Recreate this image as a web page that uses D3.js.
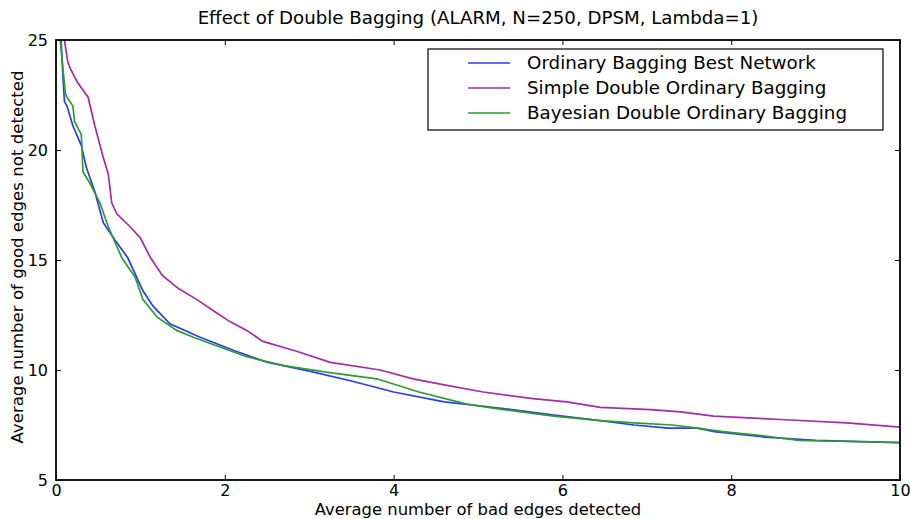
<!DOCTYPE html>
<html>
<head>
<meta charset="utf-8">
<script src="https://cdn.jsdelivr.net/npm/d3@7"></script>
<style>
  body { margin: 0; background: #fff; }
  text { font-family: "DejaVu Sans", sans-serif; fill: #000; }
</style>
</head>
<body>
<svg id="chart"></svg>
<script>
// Chart size
const width = 910;
const height = 519;
const margin = {top: 40, right: 10, bottom: 39, left: 56};

// Data
const seriesNames = ["Ordinary Bagging Best Network", "Simple Double Ordinary Bagging", "Bayesian Double Ordinary Bagging"];

const bestX = [0.06, 0.08, 0.10, 0.13, 0.20, 0.30, 0.36, 0.46, 0.56, 0.70, 0.85, 1.03, 1.15, 1.35, 1.70, 2.10, 2.50, 3.00, 3.50, 4.00, 4.60, 5.30, 5.90, 6.45, 6.85, 7.25, 7.60, 7.80, 8.40, 9.00, 10.0];
const bestY = [25, 23.5, 22.2, 22.0, 21.1, 20.2, 19.2, 18.1, 16.7, 15.9, 15.1, 13.6, 12.9, 12.1, 11.5, 10.9, 10.35, 9.95, 9.5, 9.0, 8.55, 8.25, 7.95, 7.7, 7.5, 7.36, 7.36, 7.2, 6.95, 6.8, 6.7];

const simpleX = [0.10, 0.14, 0.17, 0.25, 0.38, 0.46, 0.55, 0.62, 0.66, 0.72, 0.88, 1.00, 1.12, 1.26, 1.45, 1.67, 1.90, 2.06, 2.26, 2.45, 2.85, 3.25, 3.84, 4.23, 4.63, 5.06, 5.65, 6.05, 6.45, 7.04, 7.40, 7.79, 8.58, 9.37, 10.0];
const simpleY = [25, 24.0, 23.7, 23.1, 22.4, 21.1, 19.8, 18.9, 17.6, 17.1, 16.5, 16.0, 15.1, 14.3, 13.7, 13.2, 12.6, 12.2, 11.8, 11.3, 10.85, 10.35, 10.0, 9.6, 9.3, 9.0, 8.7, 8.55, 8.3, 8.2, 8.1, 7.9, 7.75, 7.6, 7.4];

const bayesX = [0.05, 0.08, 0.11, 0.13, 0.20, 0.22, 0.30, 0.32, 0.40, 0.44, 0.52, 0.62, 0.78, 0.94, 1.03, 1.20, 1.43, 1.62, 1.90, 2.26, 2.70, 3.20, 3.80, 4.30, 4.87, 5.30, 5.90, 6.45, 6.85, 7.30, 7.60, 7.90, 8.40, 8.80, 9.40, 10.0];
const bayesY = [25, 23.8, 22.6, 22.4, 22.0, 21.3, 20.7, 19.0, 18.5, 18.2, 17.6, 16.5, 15.1, 14.2, 13.2, 12.4, 11.8, 11.5, 11.1, 10.6, 10.2, 9.9, 9.6, 9.0, 8.45, 8.2, 7.9, 7.7, 7.6, 7.5, 7.36, 7.2, 7.0, 6.8, 6.75, 6.7];

const xTicks = [0, 2, 4, 6, 8, 10];
const yTicks = [5, 10, 15, 20, 25];

const colors = ["#2b3cf0", "#a62ca6", "#2c9c2c"];

const series = [
  {name: seriesNames[0], xs: bestX, ys: bestY, color: colors[0]},
  {name: seriesNames[1], xs: simpleX, ys: simpleY, color: colors[1]},
  {name: seriesNames[2], xs: bayesX, ys: bayesY, color: colors[2]}
];

const svg = d3.select("#chart")
    .attr("width", width)
    .attr("height", height);

const x = d3.scaleLinear()
    .domain([0, 10])
    .range([margin.left, width - margin.right]);

const y = d3.scaleLinear()
    .domain([5, 25])
    .range([height - margin.bottom, margin.top]);

// Clip so the lines stay inside the axes
svg.append("clipPath")
    .attr("id", "clip")
  .append("rect")
    .attr("x", margin.left)
    .attr("y", margin.top)
    .attr("width", width - margin.left - margin.right)
    .attr("height", height - margin.top - margin.bottom);

const line = d3.line()
    .x(d => x(d[0]))
    .y(d => y(d[1]));

svg.append("g")
    .attr("clip-path", "url(#clip)")
  .selectAll("path")
  .data(series)
  .enter().append("path")
    .attr("fill", "none")
    .attr("stroke", d => d.color)
    .attr("stroke-width", 1.7)
    .attr("d", d => line(d.xs.map((v, i) => [v, d.ys[i]])));

// Axes, ticks pointing inward on all four sides
const tickLen = 5;
const axisStyle = g => {
  g.select(".domain").remove();
  g.selectAll("line").attr("stroke", "#000").attr("stroke-width", 1);
  g.selectAll("text").style("font-size", "16px");
};

svg.append("g")
    .attr("transform", `translate(0,${height - margin.bottom})`)
    .call(d3.axisBottom(x).tickValues(xTicks).tickFormat(d3.format("d"))
      .tickSizeInner(-tickLen).tickSizeOuter(0).tickPadding(5))
    .call(axisStyle);

svg.append("g")
    .attr("transform", `translate(0,${margin.top})`)
    .call(d3.axisTop(x).tickValues(xTicks).tickFormat("")
      .tickSizeInner(-tickLen).tickSizeOuter(0))
    .call(axisStyle);

svg.append("g")
    .attr("transform", `translate(${margin.left},0)`)
    .call(d3.axisLeft(y).tickValues(yTicks).tickFormat(d3.format("d"))
      .tickSizeInner(-tickLen).tickSizeOuter(0).tickPadding(8))
    .call(axisStyle);

svg.append("g")
    .attr("transform", `translate(${width - margin.right},0)`)
    .call(d3.axisRight(y).tickValues(yTicks).tickFormat("")
      .tickSizeInner(-tickLen).tickSizeOuter(0))
    .call(axisStyle);

// Frame
svg.append("rect")
    .attr("x", margin.left)
    .attr("y", margin.top)
    .attr("width", width - margin.left - margin.right)
    .attr("height", height - margin.top - margin.bottom)
    .attr("fill", "none")
    .attr("stroke", "#000")
    .attr("stroke-width", 1.8);

// Title and axis labels
svg.append("text")
    .attr("x", (margin.left + width - margin.right) / 2)
    .attr("y", 24)
    .attr("text-anchor", "middle")
    .style("font-size", "18.2px")
    .text("Effect of Double Bagging (ALARM, N=250, DPSM, Lambda=1)");

svg.append("text")
    .attr("x", (margin.left + width - margin.right) / 2)
    .attr("y", 515)
    .attr("text-anchor", "middle")
    .style("font-size", "16.4px")
    .text("Average number of bad edges detected");

svg.append("text")
    .attr("transform", `translate(23,${(margin.top + height - margin.bottom) / 2 - 3}) rotate(-90)`)
    .attr("text-anchor", "middle")
    .style("font-size", "16.6px")
    .text("Average number of good edges not detected");

// Legend
const legend = svg.append("g")
    .attr("transform", "translate(428,49)");

legend.append("rect")
    .attr("width", 455)
    .attr("height", 81)
    .attr("fill", "#fff")
    .attr("stroke", "#000")
    .attr("stroke-width", 1.2);

const rows = legend.selectAll("g.row")
  .data(series)
  .enter().append("g")
    .attr("class", "row")
    .attr("transform", (d, i) => `translate(0,${14 + i * 25})`);

rows.append("line")
    .attr("x1", 40)
    .attr("x2", 82)
    .attr("stroke", d => d.color)
    .attr("stroke-width", 1.7);

rows.append("text")
    .attr("x", 99)
    .attr("dy", "0.35em")
    .style("font-size", "18.3px")
    .text(d => d.name);
</script>
</body>
</html>
